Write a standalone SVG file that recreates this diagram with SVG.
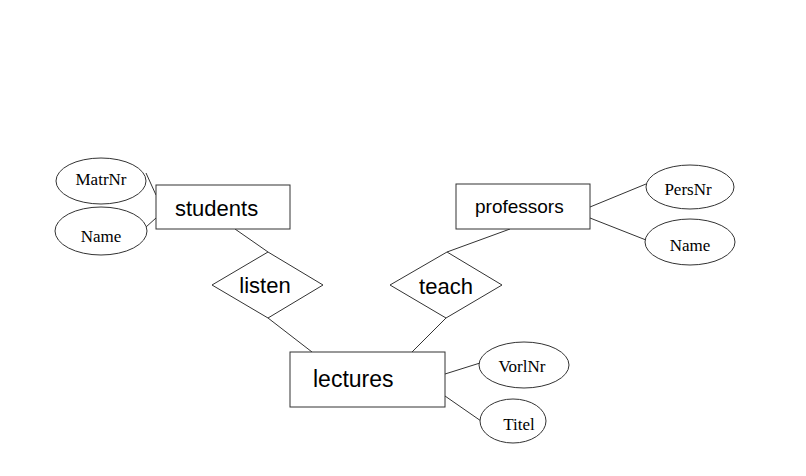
<svg xmlns="http://www.w3.org/2000/svg" width="806" height="476" viewBox="0 0 806 476">
<style>
.shape{fill:#fff;stroke:#333;stroke-width:1}
.conn line{stroke:#333;stroke-width:1}
.lbl{font-family:"Liberation Sans",Arial,sans-serif;fill:#000}
.attr{font-family:"Liberation Serif","Times New Roman",serif;font-size:17px;fill:#000;text-anchor:middle}
</style>
<rect width="806" height="476" fill="#fff"/>
<g id="connectors" class="conn">
<line x1="146" y1="173" x2="156" y2="195"/>
<line x1="146" y1="227" x2="156" y2="218"/>
<line x1="235" y1="229" x2="268" y2="252"/>
<line x1="268" y1="318" x2="312" y2="352"/>
<line x1="447" y1="252" x2="510" y2="229"/>
<line x1="446" y1="318" x2="412" y2="352"/>
<line x1="590" y1="207" x2="646" y2="184"/>
<line x1="590" y1="218" x2="646" y2="240"/>
<line x1="445" y1="374" x2="480" y2="363"/>
<line x1="445" y1="396" x2="481" y2="421"/>
</g>
<g id="students"><rect class="shape" x="156" y="185" width="134" height="44"/><text class="lbl" x="175" y="216" font-size="22">students</text></g>
<g id="matrnr"><ellipse class="shape" cx="101" cy="181" rx="45" ry="23"/><text class="attr" x="101" y="185">MatrNr</text></g>
<g id="name1"><ellipse class="shape" cx="101" cy="231" rx="46" ry="24"/><text class="attr" x="101" y="242">Name</text></g>
<g id="listen"><polygon class="shape" points="212,285 268,252 323,285 268,318"/><text class="lbl" x="265" y="293" font-size="22" text-anchor="middle">listen</text></g>
<g id="teach"><polygon class="shape" points="390,285 447,252 502,285 446,318"/><text class="lbl" x="446" y="294" font-size="22" text-anchor="middle">teach</text></g>
<g id="professors"><rect class="shape" x="456" y="184" width="134" height="45"/><text class="lbl" x="475" y="213" font-size="19">professors</text></g>
<g id="persnr"><ellipse class="shape" cx="690" cy="187" rx="44" ry="22"/><text class="attr" x="688" y="195">PersNr</text></g>
<g id="name2"><ellipse class="shape" cx="690" cy="242" rx="45" ry="23"/><text class="attr" x="690" y="251">Name</text></g>
<g id="lectures"><rect class="shape" x="290" y="352" width="155" height="55"/><text class="lbl" x="313" y="387" font-size="23">lectures</text></g>
<g id="vorlnr"><ellipse class="shape" cx="524" cy="365" rx="45" ry="23"/><text class="attr" x="522" y="372">VorlNr</text></g>
<g id="titel"><ellipse class="shape" cx="513" cy="421" rx="33" ry="22"/><text class="attr" x="519" y="430">Titel</text></g>
</svg>
